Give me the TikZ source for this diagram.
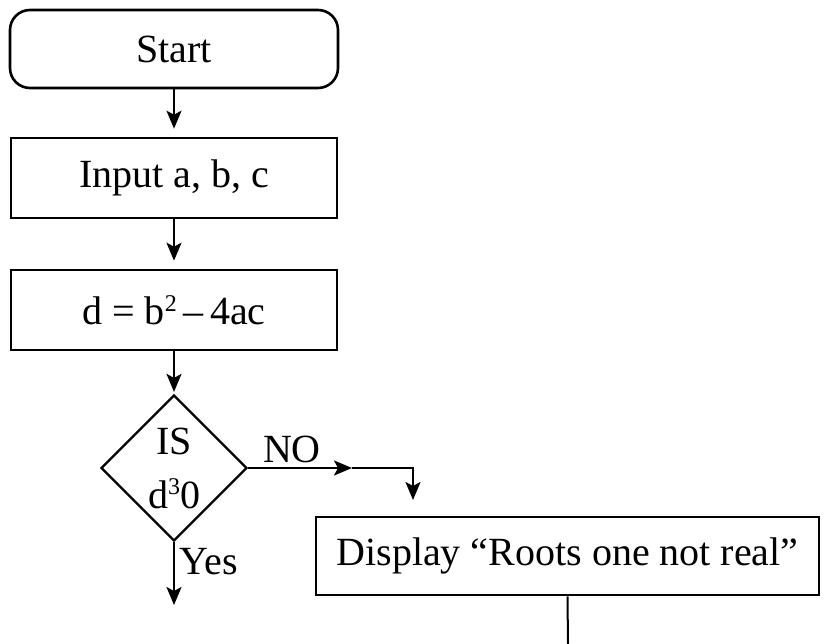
\documentclass[tikz,border=0pt]{standalone}
\usepackage{fontspec}
\setmainfont{Liberation Serif}
\usetikzlibrary{shapes.geometric,arrows.meta}
\newcommand{\mysup}[2]{\raisebox{#1}{\fontsize{24}{24}\selectfont #2}}
\begin{document}
\begin{tikzpicture}[x=1pt,y=-1pt,
  every node/.style={font=\fontsize{40}{48}\selectfont},
  boxstyle/.style={draw,line width=2.6pt,inner sep=0pt},
  flowarrow/.style={line width=2pt,-{Stealth[length=18pt,width=15pt,inset=4pt]}},
  flowline/.style={line width=2pt}]
\useasboundingbox (0,0) rectangle (830,644);
\node[boxstyle,rounded corners=20pt,minimum width=328pt,minimum height=78pt] (start) at (174,49) {Start};
\node[boxstyle,minimum width=326pt,minimum height=80pt] (input) at (174,178) {Input a, b, c};
\node[boxstyle,minimum width=326pt,minimum height=80pt] (calc) at (174,310) {d = b\mysup{13pt}{2}\,–\,4ac};
\node[boxstyle,line width=2.2pt,shape=diamond,minimum width=146pt,minimum height=146pt,align=center] (dec) at (174,468) {IS\\[6pt]d\mysup{14pt}{3}0};
\node[boxstyle,minimum width=503pt,minimum height=78pt] (disp) at (567.5,556) {Display “Roots one not real”};
\node (no) at (292,449) {NO};
\node (yes) at (209,562) {Yes};
\coordinate (yesend) at (174,605);
\coordinate (nomid) at (352,468);
\coordinate (nocorner) at (413,468);
\coordinate (noend) at (413,500);
\coordinate (dispend) at (568,644);
\draw[flowarrow] (start.south) -- ([yshift=8pt]input.north);
\draw[flowarrow] (input.south) -- ([yshift=8pt]calc.north);
\draw[flowarrow] (calc.south) -- ([yshift=2pt]dec.north);
\draw[flowarrow] (dec.south) -- (yesend);
\draw[flowarrow] (dec.east) -- (nomid);
\draw[flowarrow] (nomid) -- (nocorner) -- (noend);
\draw[flowline] (disp.south) -- (dispend);
\end{tikzpicture}
\end{document}
